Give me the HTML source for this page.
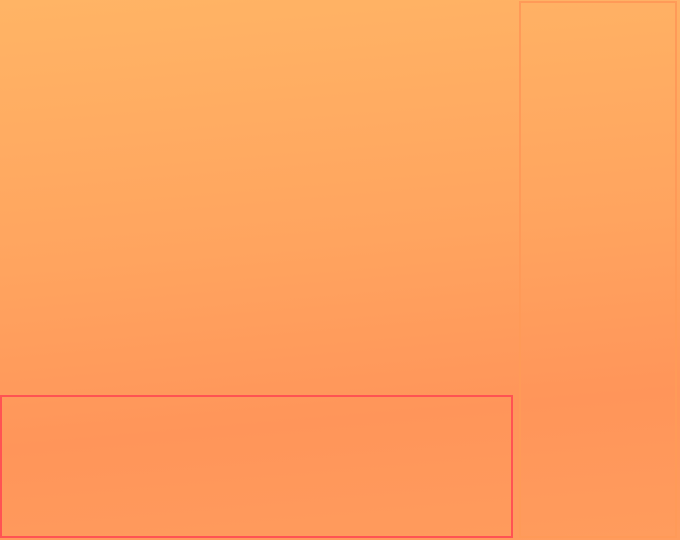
<!DOCTYPE html>
<html><head><meta charset="utf-8"><style>
html,body{margin:0;padding:0;}
body{width:680px;height:540px;overflow:hidden;position:relative;
background:linear-gradient(175deg,#ffb465 0%,#ffa45f 45%,#ff955a 75%,#ff9c5d 100%);
font-family:"Liberation Sans",sans-serif;}
.r{position:absolute;box-sizing:border-box;}
</style></head><body>
<div class="r" style="left:519px;top:1px;width:158px;height:537px;border:2px solid #ff9a58;"></div>
<div class="r" style="left:0px;top:395px;width:513px;height:143px;border:2px solid #ff5353;"></div>
</body></html>
